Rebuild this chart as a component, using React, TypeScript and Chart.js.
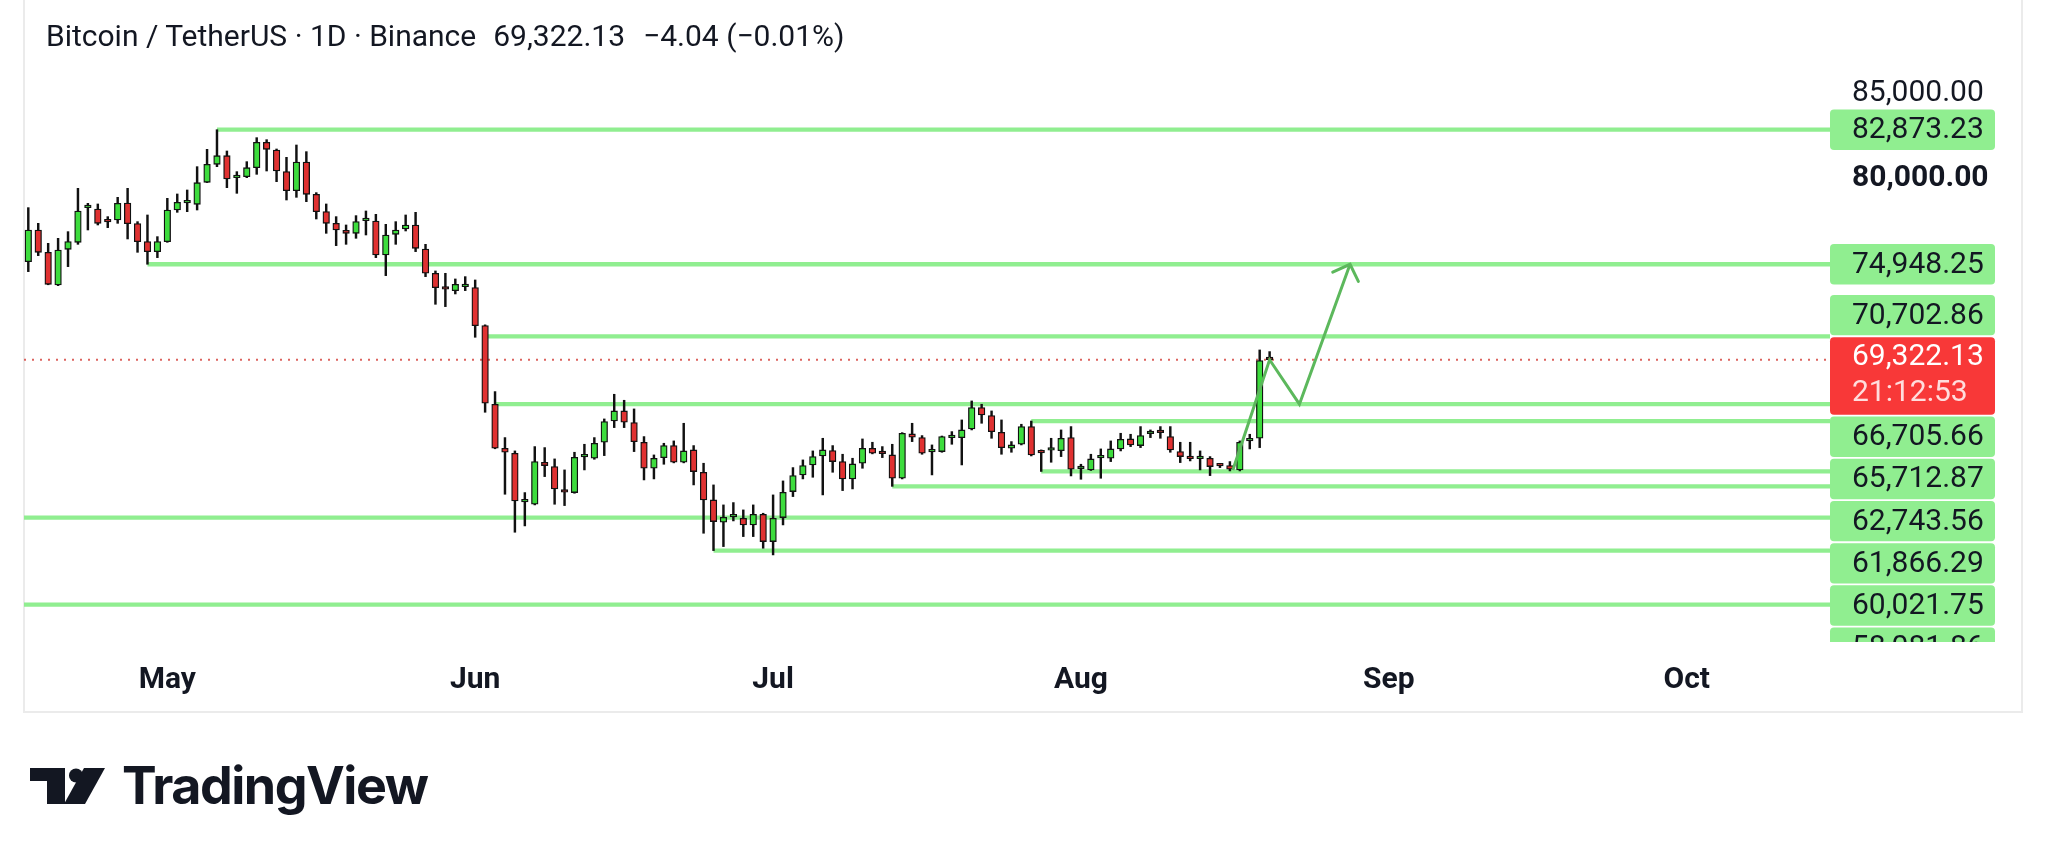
import React, { useEffect, useRef } from "react";
import { Chart, registerables } from "chart.js";

Chart.register(...registerables);

// ---- data (day index 0 = Apr 17) ----
const OPEN = [75103,76968,75652,73729,75829,76241,78283,78204,77478,77556,78558,77341,76280,75692,76280,78145,78558,78479,79775,80835,81345,80049,80108,80638,82130,81679,80403,79284,80972,79068,78047,77360,76948,76771,77517,77498,75495,76712,77026,77262,75849,74416,73513,73395,73630,73572,71334,66701,64110,63815,60949,60812,63286,63030,61656,61499,63600,63521,64463,65720,66308,65621,64463,62932,63560,64267,63286,64012,62696,61067,59752,60066,59988,59595,60223,58613,60027,61558,62540,63128,63658,63972,63325,62304,63227,64110,63835,63717,62343,64954,64738,63894,63914,64738,64738,65248,66505,66034,65052,64110,64345,65386,63874,63992,63972,64738,62913,62834,63540,63521,64071,64659,64267,64974,65072,64797,63914,63540,63501,63521,63109,63089,62834,64542,64698,69326.17];
const HIGH = [78283,77360,76182,76477,76869,79421,78538,78499,77753,78891,79421,77458,77851,76575,78832,79088,79323,80697,81718,82873.23,81620,80403,80992,82405,82287,81738,81247,81973,81581,79166,78499,77753,77262,77812,78086,77890,77301,77458,77851,78008,76123,74553,74416,74082,74219,74023,71380,67447,64738,63953,61499,64208,64149,63482,62834,63874,64345,64738,65837,67290,66937,66426,64797,63717,64404,64542,65582,64267,63227,61951,60773,60910,60478,60773,60282,61362,62186,62971,63423,63953,64698,64267,63757,63521,64659,64463,64208,64345,65030,65582,64856,64306,64830,65091,65778,66897,66701,66308,65778,64502,65524,65712.87,64012,64698,65190,65386,63168,63757,64071,64542,64993,64934,65386,65190,65386,65386,64463,64463,63953,63619,63168,63325,64542,64934,69901,69803];
const LOW = [74514,75456,73740,73689,74808,76123,76968,77262,77105,77360,76438,75652,74948.25,75338,76241,78008,78047,78145,79760,80697,79461,79127,80049,80246,80442,79814,78734,78891,78636,77615,76771,76045,76123,76477,76673,75338,74278,76123,76909,75692,74219,72590,72453,73199,73395,70647,66230,64080,61401,59163,59536,60773,62441,60812,60734,61460,62834,63462,63678,65327,65327,63914,62245,62304,63168,63250,63250,61951,59104,58081.86,58319,59830,58908,58908,58221,57828,59595,61264,62304,62402,61362,62696,61617,61715,62932,63780,63560,61866.29,62304,64502,63757,62540,63874,64345,63128,65190,65582,64698,63757,63874,64306,63658,62743.56,63286,63619,62480,62284,62800,62343,63325,63953,64208,64149,64738,64698,63874,63266,63364,62834,62500,62971,62775,62775,64071,64149,69175];
const CLOSE = [76968,75652,73768,75790,76280,78086,78342,77360,77439,78538,77341,76280,75692,76280,78145,78597,78597,79755,80835,81345,79971,80089,80638,82130,81718,80442,79284,80972,79068,78047,77360,76968,76771,77458,77556,75495,76673,76968,77262,75888,74416,73572,73474,73768,73768,71334,66760,64110,63874,61008,60989,63325,63089,61715,61518,63580,63639,64404,65680,66308,65641,64502,62932,63521,64267,63286,63953,62736,61067,59791,60047,60105,59595,60223,58613,59988,61518,62500,63089,63619,64012,63325,62304,63187,64110,63815,63796,62343,64993,64758,63815,63934,64797,64777,65190,66505,66073,65091,64149,64306,65386,63717,63835,64031,64698,62873,62952,63482,63580,64071,64640,64306,64856,65013,65033,64012,63619,63501,63540,63030,63070,62873,64463,64698,69273,69322.13];

const CURRENT_PRICE = 69322.13;
const COUNTDOWN = "21:12:53";

const LEVELS = [82873.23, 74948.25, 70702.86, 66705.66, 65712.87, 62743.56, 61866.29, 60021.75, 58081.86, 54896.9];
const LEVEL_STARTS = [19, 12, 46, 47, 101, 102, 87, -1, 69, -1];

const ARROW_X = [121.3, 125, 128, 133.1];
const ARROW_Y = [62830, 69322.13, 66705.66, 74948.25];

const MONTH_TICKS = [14, 45, 75, 106, 137, 167];
const MONTH_LABELS = ["May", "Jun", "Jul", "Aug", "Sep", "Oct"];
const PRICE_TICKS = [80000, 85000];

const X_MIN = -0.433;
const X_MAX = 181.43;
const Y_MIN = 52698;
const Y_MAX = 86862;

const GREEN = "#3ddc3d";
const RED = "#e03131";
const LEVEL_COLOR = "#90ee90";
const TEXT = "#131722";

const fmt = (v: number) =>
  v.toLocaleString("en-US", { minimumFractionDigits: 2, maximumFractionDigits: 2 });

function rr(ctx: CanvasRenderingContext2D, x: number, y: number, w: number, h: number, r: number) {
  ctx.beginPath();
  ctx.moveTo(x + r, y);
  ctx.lineTo(x + w - r, y);
  ctx.quadraticCurveTo(x + w, y, x + w, y + r);
  ctx.lineTo(x + w, y + h - r);
  ctx.quadraticCurveTo(x + w, y + h, x + w - r, y + h);
  ctx.lineTo(x + r, y + h);
  ctx.quadraticCurveTo(x, y + h, x, y + h - r);
  ctx.lineTo(x, y + r);
  ctx.quadraticCurveTo(x, y, x + r, y);
  ctx.closePath();
}

const chromePlugin = {
  id: "chrome",
  beforeDraw(chart: any) {
    const ctx = chart.ctx as CanvasRenderingContext2D;
    ctx.save();
    ctx.fillStyle = "#ffffff";
    ctx.fillRect(0, 0, chart.width, chart.height);
    ctx.strokeStyle = "#ebebeb";
    ctx.lineWidth = 2;
    const x = chart.scales.x;
    const y = chart.scales.y;
    ctx.strokeRect(x.left, -4, y.right - x.left, x.bottom + 4);
    ctx.restore();
  },
  afterDatasetsDraw(chart: any) {
    const ctx = chart.ctx as CanvasRenderingContext2D;
    const xs = chart.scales.x;
    const ys = chart.scales.y;
    const n = ARROW_X.length;
    const tx = xs.getPixelForValue(ARROW_X[n - 1]);
    const ty = ys.getPixelForValue(ARROW_Y[n - 1]);
    const px = xs.getPixelForValue(ARROW_X[n - 2]);
    const py = ys.getPixelForValue(ARROW_Y[n - 2]);
    const ang = Math.atan2(py - ty, px - tx);
    const len = 19;
    ctx.save();
    ctx.strokeStyle = "#5cb85c";
    ctx.lineWidth = 3;
    ctx.lineCap = "round";
    ctx.beginPath();
    ctx.moveTo(tx + Math.cos(ang - 0.8) * len, ty + Math.sin(ang - 0.8) * len);
    ctx.lineTo(tx, ty);
    ctx.lineTo(tx + Math.cos(ang + 0.8) * len, ty + Math.sin(ang + 0.8) * len);
    ctx.stroke();
    ctx.restore();
  },
  afterDraw(chart: any) {
    const ctx = chart.ctx as CanvasRenderingContext2D;
    const ys = chart.scales.y;
    const xs = chart.scales.x;
    const L = ys.left;
    const W = 165;
    const tx = L + 22;
    ctx.save();
    ctx.beginPath();
    ctx.rect(L - 2, 0, 240, xs.top);
    ctx.clip();
    ctx.font = "30px Roboto";
    ctx.textBaseline = "middle";
    ctx.textAlign = "left";
    const cy = ys.getPixelForValue(CURRENT_PRICE);
    const redTop = cy - 22.6;
    const redBot = cy + 55;
    const H = 40.4;
    const GAP = 1.8;
    const box = (c: number, v: number) => {
      ctx.fillStyle = LEVEL_COLOR;
      rr(ctx, L, c - H / 2, W, H, 4);
      ctx.fill();
      ctx.fillStyle = TEXT;
      ctx.fillText(fmt(v), tx, c + 1);
    };
    const above = LEVELS.filter((v) => v > CURRENT_PRICE).sort((a, b) => a - b);
    let lim = redTop - GAP;
    for (const v of above) {
      let c = ys.getPixelForValue(v);
      if (c + H / 2 > lim) c = lim - H / 2;
      box(c, v);
      lim = c - H / 2 - GAP;
    }
    const below = LEVELS.filter((v) => v < CURRENT_PRICE).sort((a, b) => b - a);
    let lim2 = redBot + GAP;
    for (const v of below) {
      let c = ys.getPixelForValue(v);
      if (c - H / 2 < lim2) c = lim2 + H / 2;
      box(c, v);
      lim2 = c + H / 2 + GAP;
    }
    ctx.fillStyle = "#f83838";
    rr(ctx, L, redTop, W, redBot - redTop, 4);
    ctx.fill();
    ctx.fillStyle = "#ffffff";
    ctx.fillText(fmt(CURRENT_PRICE), tx, cy - 2.5);
    ctx.fillStyle = "rgba(255,235,235,0.92)";
    ctx.fillText(COUNTDOWN, tx, cy + 33.5);
    ctx.restore();
  },
};

export default function App() {
  const ref = useRef<HTMLCanvasElement | null>(null);

  useEffect(() => {
    if (!ref.current) return;
    Chart.defaults.font.family = "Roboto";
    const idx = OPEN.map((_, i) => i);
    const levelSets = LEVELS.map((v, k) => ({
      type: "line" as const,
      data: [
        { x: LEVEL_STARTS[k] < 0 ? X_MIN : LEVEL_STARTS[k], y: v },
        { x: X_MAX, y: v },
      ],
      borderColor: LEVEL_COLOR,
      borderWidth: 4.3,
      pointRadius: 0,
      fill: false,
      order: 3,
    }));
    const chart = new Chart(ref.current, {
      type: "bar",
      data: {
        datasets: [
          {
            type: "line",
            data: ARROW_X.map((x, i) => ({ x, y: ARROW_Y[i] })),
            borderColor: "#5cb85c",
            borderWidth: 3,
            pointRadius: 0,
            fill: false,
            order: 0,
          } as any,
          {
            type: "bar",
            data: idx.map((i) => ({ x: i, y: [OPEN[i], CLOSE[i]] })),
            backgroundColor: idx.map((i) => (CLOSE[i] >= OPEN[i] ? GREEN : RED)),
            borderColor: "#111111",
            borderWidth: 1.3,
            borderSkipped: false,
            barThickness: 6.6,
            minBarLength: 2.6,
            grouped: false,
            order: 1,
          } as any,
          {
            type: "bar",
            data: idx.map((i) => ({ x: i, y: [LOW[i], HIGH[i]] })),
            backgroundColor: "#111111",
            borderWidth: 0,
            barThickness: 1.8,
            grouped: false,
            order: 2,
          } as any,
          ...(levelSets as any[]),
          {
            type: "line",
            data: [
              { x: X_MIN, y: CURRENT_PRICE },
              { x: X_MAX, y: CURRENT_PRICE },
            ],
            borderColor: "rgba(214,72,66,0.85)",
            borderWidth: 2,
            borderDash: [2, 6],
            pointRadius: 0,
            fill: false,
            order: 4,
          } as any,
        ],
      },
      options: {
        animation: false,
        responsive: false,
        devicePixelRatio: 1,
        events: [],
        layout: { padding: { left: 24, right: 26, top: 62, bottom: 150 } },
        plugins: {
          legend: { display: false },
          tooltip: { enabled: false },
        },
        scales: {
          x: {
            type: "linear",
            min: X_MIN,
            max: X_MAX,
            offset: false,
            grid: { display: false, drawTicks: false },
            border: { display: false },
            afterBuildTicks: (s: any) => {
              s.ticks = MONTH_TICKS.map((v) => ({ value: v }));
            },
            afterFit: (s: any) => {
              s.height = 70;
            },
            ticks: {
              autoSkip: false,
              maxRotation: 0,
              padding: 20,
              color: TEXT,
              font: { size: 30, weight: "bold" },
              callback: (v: any) => {
                const k = MONTH_TICKS.indexOf(Number(v));
                return k >= 0 ? MONTH_LABELS[k] : "";
              },
            },
          },
          y: {
            type: "linear",
            position: "right",
            min: Y_MIN,
            max: Y_MAX,
            grid: { display: false, drawTicks: false },
            border: { display: false },
            afterBuildTicks: (s: any) => {
              s.ticks = PRICE_TICKS.map((v) => ({ value: v }));
            },
            afterFit: (s: any) => {
              s.width = 192;
            },
            ticks: {
              padding: 22,
              crossAlign: "near",
              color: TEXT,
              font: (c: any) => ({
                size: 30,
                weight: c.tick && c.tick.value === 80000 ? "bold" : "normal",
              }),
              callback: (v: any) => fmt(Number(v)),
            },
          },
        },
      } as any,
      plugins: [chromePlugin],
    });
    return () => chart.destroy();
  }, []);

  return (
    <div
      style={{
        position: "fixed",
        left: 0,
        top: 0,
        width: 2048,
        height: 862,
        background: "#ffffff",
        overflow: "hidden",
      }}
    >
      <canvas
        ref={ref}
        width={2048}
        height={862}
        style={{ position: "absolute", left: 0, top: 0, width: 2048, height: 862 }}
      />
      <div
        style={{
          position: "absolute",
          left: 46,
          top: 21,
          fontFamily: "Roboto",
          fontSize: 30,
          lineHeight: "30px",
          color: TEXT,
          whiteSpace: "nowrap",
        }}
      >
        Bitcoin / TetherUS · 1D · Binance
        <span style={{ marginLeft: 17 }}>69,322.13</span>
        <span style={{ marginLeft: 18 }}>−4.04 (−0.01%)</span>
      </div>
      <svg
        width={80}
        height={44}
        viewBox="0 0 80 44"
        style={{ position: "absolute", left: 28, top: 764 }}
      >
        <rect x={2} y={4} width={35} height={13} fill={TEXT} />
        <rect x={19} y={4} width={18} height={36} fill={TEXT} />
        <circle cx={48} cy={11.5} r={7} fill={TEXT} />
        <polygon points="56,4 77,4 57,40 36,40" fill={TEXT} />
      </svg>
      <div
        style={{
          position: "absolute",
          left: 122,
          top: 760,
          fontFamily: "Inter",
          fontWeight: 700,
          fontSize: 52,
          lineHeight: "52px",
          letterSpacing: -1.5,
          color: TEXT,
          whiteSpace: "nowrap",
        }}
      >
        TradingView
      </div>
    </div>
  );
}
